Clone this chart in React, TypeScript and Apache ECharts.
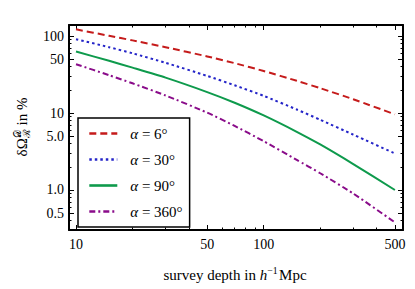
import React, { useEffect, useRef } from "react";
import * as echarts from "echarts";

// ---- data ----
const depths = [10, 15, 20, 30, 50, 70, 100, 150, 200, 300, 500];
const alpha6 = [122, 100.7, 87.7, 71.6, 54.3, 44.4, 35.1, 26.2, 21.0, 15.1, 9.6];
const alpha30 = [91, 71.6, 59.6, 44.9, 30.3, 22.9, 16.7, 11.1, 8.17, 5.23, 2.98];
const alpha90 = [63, 47.6, 38.8, 28.8, 18.7, 13.6, 9.3, 5.7, 3.9, 2.17, 1.0];
const alpha360 = [43, 31, 24.3, 16.9, 10.1, 6.8, 4.3, 2.46, 1.65, 0.9, 0.38];
const seriesNames = ["α = 6°", "α = 30°", "α = 90°", "α = 360°"];

const xMajorTicks = [10, 50, 100, 500];
const xMajorLabels = ["10", "50", "100", "500"];
const xMinorTicks = [20, 30, 40, 60, 70, 80, 90, 200, 300, 400];
const yMajorTicks = [0.5, 1, 5, 10, 50, 100];
const yMajorLabels = ["0.5", "1.0", "5.0", "10", "50", "100"];
const yMinorTicks = [0.4, 0.6, 0.7, 0.8, 0.9, 2, 3, 4, 6, 7, 8, 9, 20, 30, 40, 60, 70, 80, 90];

// axis extents (log10 space)
const X_MIN = 0.9627;
const X_MAX = 2.7421;
const Y_MIN = -0.5195;
const Y_MAX = 2.1429;

const FONT = '"Liberation Serif", "Times New Roman", serif';
const lg = Math.log10;

function measure(text: string, size: number, style = "normal") {
  const c = document.createElement("canvas").getContext("2d");
  if (!c) return text.length * size * 0.5;
  c.font = `${style} ${size}px ${FONT}`;
  return c.measureText(text).width;
}

function labelFormatter(ticks: number[], labels: string[]) {
  const m = new Map<string, string>();
  ticks.forEach((t, i) => m.set(lg(t).toFixed(5), labels[i]));
  return (v: number) => m.get(Number(v).toFixed(5)) ?? "";
}

export default function App() {
  const ref = useRef<HTMLDivElement>(null);

  useEffect(() => {
    if (!ref.current) return;
    const chart = echarts.init(ref.current, undefined, { renderer: "svg" });

    const GRID = { left: 69, top: 25, width: 334, height: 205 };
    const black = "#000";
    const tickFont = 14;

    const mkAxis = (
      grid: number,
      position: string,
      dir: "x" | "y",
      ticks: number[],
      tickLen: number,
      showLine: boolean,
      labels?: string[]
    ): any => ({
      type: "value",
      gridIndex: grid,
      position,
      min: dir === "x" ? X_MIN : Y_MIN,
      max: dir === "x" ? X_MAX : Y_MAX,
      splitLine: { show: false },
      axisLine: { show: showLine, onZero: false, lineStyle: { color: black, width: 2 } },
      axisTick: {
        show: true,
        inside: true,
        length: tickLen,
        customValues: ticks.map(lg),
        lineStyle: { color: black, width: 1 },
      },
      axisLabel: labels
        ? {
            show: true,
            customValues: ticks.map(lg),
            formatter: labelFormatter(ticks, labels),
            margin: dir === "x" ? 7 : 5,
            fontSize: tickFont,
            fontFamily: FONT,
            color: black,
          }
        : { show: false },
    });

    const xAxes = [
      mkAxis(0, "bottom", "x", xMajorTicks, 5, true, xMajorLabels),
      mkAxis(0, "top", "x", xMajorTicks, 5, true),
      mkAxis(1, "bottom", "x", xMinorTicks, 2.5, false),
      mkAxis(1, "top", "x", xMinorTicks, 2.5, false),
    ];
    const yAxes = [
      mkAxis(0, "left", "y", yMajorTicks, 5, true, yMajorLabels),
      mkAxis(0, "right", "y", yMajorTicks, 5, true),
      mkAxis(1, "left", "y", yMinorTicks, 2.5, false),
      mkAxis(1, "right", "y", yMinorTicks, 2.5, false),
    ];

    const seriesDefs = [
      { data: alpha6, color: "#c51b1b", type: [7, 4] as any },
      { data: alpha30, color: "#2424c8", type: [2.5, 3] as any },
      { data: alpha90, color: "#0e9a4c", type: "solid" as any },
      { data: alpha360, color: "#8a0c8a", type: [6, 3, 2, 3] as any },
    ];

    // ---- axis titles ----
    const TF = 15;
    const p1 = "survey depth in ";
    const w1 = measure(p1, TF);
    const w2 = measure("h", TF, "italic");
    const w3 = measure("−1", TF * 0.65);
    const w4 = measure("Mpc", TF);
    const W = w1 + w2 + w3 + 1.5 + w4;
    const sx = 235 - W / 2;
    const ty = 275;
    const xTitle = {
      type: "group",
      children: [
        { type: "text", x: sx, y: ty, style: { text: p1, font: `${TF}px ${FONT}`, fill: black, verticalAlign: "middle" } },
        { type: "text", x: sx + w1, y: ty, style: { text: "h", font: `italic ${TF}px ${FONT}`, fill: black, verticalAlign: "middle" } },
        { type: "text", x: sx + w1 + w2, y: ty - TF * 0.3, style: { text: "−1", font: `${TF * 0.65}px ${FONT}`, fill: black, verticalAlign: "middle" } },
        { type: "text", x: sx + w1 + w2 + w3 + 1.5, y: ty, style: { text: "Mpc", font: `${TF}px ${FONT}`, fill: black, verticalAlign: "middle" } },
      ],
    };

    const YF = 15;
    const SF = 10;
    const q1 = "δΩ";
    const q3 = " in %";
    const v1 = measure(q1, YF);
    const vs = Math.max(measure("𝒟", SF), measure("ℛ", SF));
    const v3 = measure(q3, YF);
    const VW = v1 + vs + v3;
    const st = -VW / 2;
    const yTitle = {
      type: "group",
      x: 22,
      y: 127,
      rotation: Math.PI / 2,
      children: [
        { type: "text", x: st, y: 0, style: { text: q1, font: `${YF}px ${FONT}`, fill: black, verticalAlign: "middle" } },
        { type: "text", x: st + v1, y: -5, style: { text: "𝒟", font: `${SF}px ${FONT}`, fill: black, verticalAlign: "middle" } },
        { type: "text", x: st + v1, y: 4.5, style: { text: "ℛ", font: `${SF}px ${FONT}`, fill: black, verticalAlign: "middle" } },
        { type: "text", x: st + v1 + vs, y: 0, style: { text: q3, font: `${YF}px ${FONT}`, fill: black, verticalAlign: "middle" } },
      ],
    };

    chart.setOption({
      animation: false,
      backgroundColor: "#fff",
      grid: [
        { ...GRID, outerBoundsMode: "none" },
        { ...GRID, outerBoundsMode: "none" },
      ],
      xAxis: xAxes,
      yAxis: yAxes,
      legend: {
        left: 78,
        top: 118,
        orient: "vertical",
        padding: [8, 7, 8, 10],
        itemWidth: 28,
        itemHeight: 14,
        itemGap: 11,
        backgroundColor: "#fff",
        borderColor: black,
        borderWidth: 1.5,
        borderRadius: 0,
        selectedMode: false,
        lineStyle: { width: 2.6 },
        itemStyle: { opacity: 0, color: "transparent", borderWidth: 0 },
        textStyle: {
          fontFamily: FONT,
          fontSize: 15,
          color: black,
          lineHeight: 14,
          rich: {
            a: { fontFamily: FONT, fontSize: 15, fontStyle: "italic", color: black, padding: [0, 0, 0, 8] },
            b: { fontFamily: FONT, fontSize: 15, color: black },
          },
        },
        formatter: (name: string) => `{a|α}{b|${name.slice(1)}}`,
        data: seriesNames,
      },
      graphic: [xTitle, yTitle],
      series: seriesDefs.map((s, i) => ({
        name: seriesNames[i],
        type: "line",
        xAxisIndex: 0,
        yAxisIndex: 0,
        symbol: "none",
        showSymbol: false,
        smooth: 0.2,
        data: depths.map((d, j) => [lg(d), lg(s.data[j])]),
        lineStyle: { color: s.color, width: 2, type: s.type },
        itemStyle: { color: s.color },
      })),
    });

    return () => chart.dispose();
  }, []);

  return (
    <div
      ref={ref}
      style={{ position: "fixed", left: 0, top: 0, width: 415, height: 289, background: "#fff" }}
    />
  );
}
